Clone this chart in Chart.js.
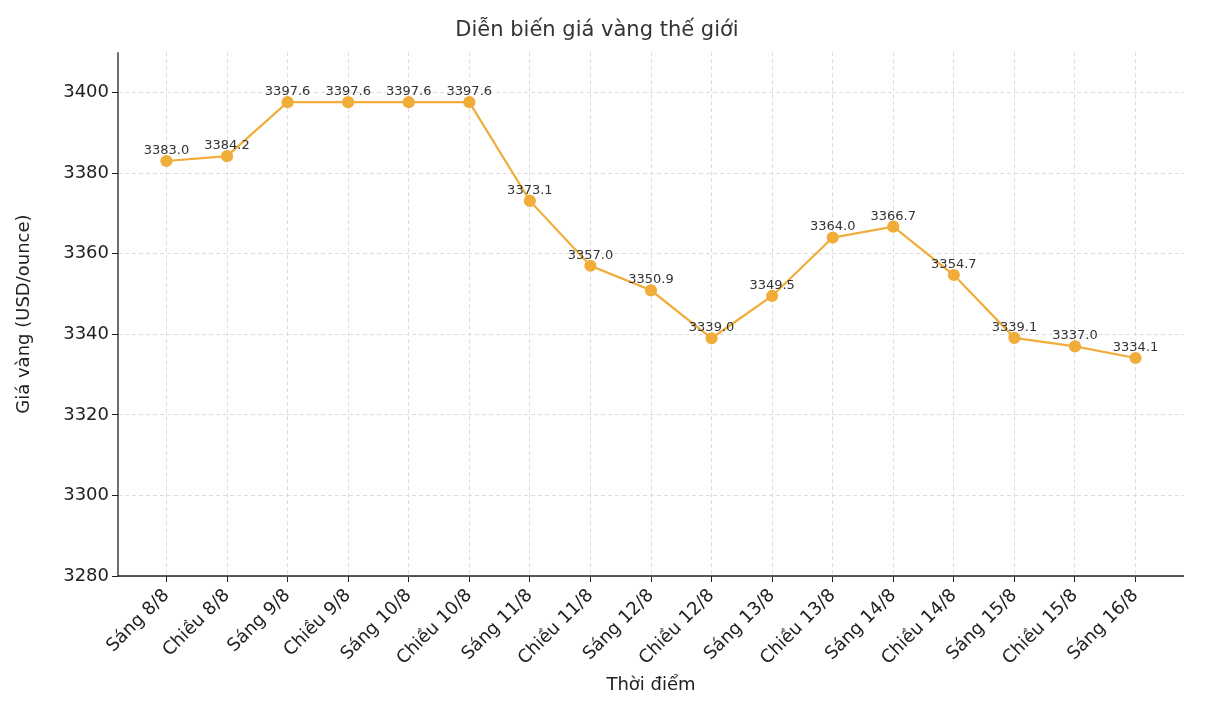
<!DOCTYPE html>
<html><head><meta charset="utf-8">
<script src="https://cdn.jsdelivr.net/npm/chart.js@4"></script>
<style>html,body{margin:0;padding:0;background:#fff}#w{width:1214px;height:706px}</style>
</head><body><div id="w"><canvas id="c"></canvas></div>
<script>
const categories = ["Sáng 8/8","Chiều 8/8","Sáng 9/8","Chiều 9/8","Sáng 10/8","Chiều 10/8","Sáng 11/8","Chiều 11/8","Sáng 12/8","Chiều 12/8","Sáng 13/8","Chiều 13/8","Sáng 14/8","Chiều 14/8","Sáng 15/8","Chiều 15/8","Sáng 16/8"];
const prices = [3383.0,3384.2,3397.6,3397.6,3397.6,3397.6,3373.1,3357.0,3350.9,3339.0,3349.5,3364.0,3366.7,3354.7,3339.1,3337.0,3334.1];
const yTicks = [3280,3300,3320,3340,3360,3380,3400];
const F = "'DejaVu Sans', sans-serif";
const labelPlugin = {id:'lbl', afterDatasetsDraw(ch){
  const ctx=ch.ctx, meta=ch.getDatasetMeta(0), a=ch.chartArea;
  ctx.save(); ctx.font="13px "+F; ctx.fillStyle="#333"; ctx.textAlign="center"; ctx.textBaseline="bottom";
  meta.data.forEach((p,i)=>ctx.fillText(prices[i].toFixed(1),p.x,p.y-4));
  ctx.strokeStyle="#222"; ctx.lineWidth=1.3; ctx.setLineDash([]);
  ctx.beginPath(); ctx.moveTo(a.left,a.top); ctx.lineTo(a.left,a.bottom); ctx.lineTo(a.right,a.bottom); ctx.stroke();
  ctx.restore();
}};
new Chart(document.getElementById('c'),{
  type:'line',
  data:{datasets:[{data:prices.map((v,i)=>({x:i,y:v})),borderColor:'#f0ad3a',backgroundColor:'#f0ad3a',borderWidth:2.2,pointRadius:5,pointHoverRadius:5,tension:0}]},
  options:{responsive:true,maintainAspectRatio:false,animation:false,
    layout:{padding:{left:10,right:30,top:0,bottom:6}},
    plugins:{legend:{display:false},tooltip:{enabled:false},
      title:{display:true,text:'Diễn biến giá vàng thế giới',color:'#333',font:{family:F,size:21,weight:'normal'},padding:{top:18,bottom:9}}},
    scales:{
      x:{type:'linear',min:-0.8,max:16.8,afterBuildTicks(s){s.ticks=categories.map((c,i)=>({value:i}));},
        afterFit(s){s.height=124;},
        ticks:{autoSkip:false,maxRotation:45,minRotation:45,color:'#222',font:{family:F,size:18},callback:(v)=>categories[v]},
        grid:{color:'#ddd',drawTicks:true,tickColor:'#222',tickLength:6},
        border:{display:false,dash:[4,3]},
        title:{display:true,text:'Thời điểm',color:'#222',font:{family:F,size:18},padding:{top:2}}},
      y:{min:3280,max:3410,afterBuildTicks(s){s.ticks=yTicks.map(v=>({value:v}));},
        afterFit(s){s.width=108;},
        ticks:{color:'#222',font:{family:F,size:18},callback:(v)=>String(v)},
        grid:{color:'#ddd',tickColor:'#222',tickLength:6},
        border:{display:false,dash:[4,3]},
        title:{display:true,text:'Giá vàng (USD/ounce)',color:'#222',font:{family:F,size:18}}}
    }},
  plugins:[labelPlugin]
});
</script></body></html>
